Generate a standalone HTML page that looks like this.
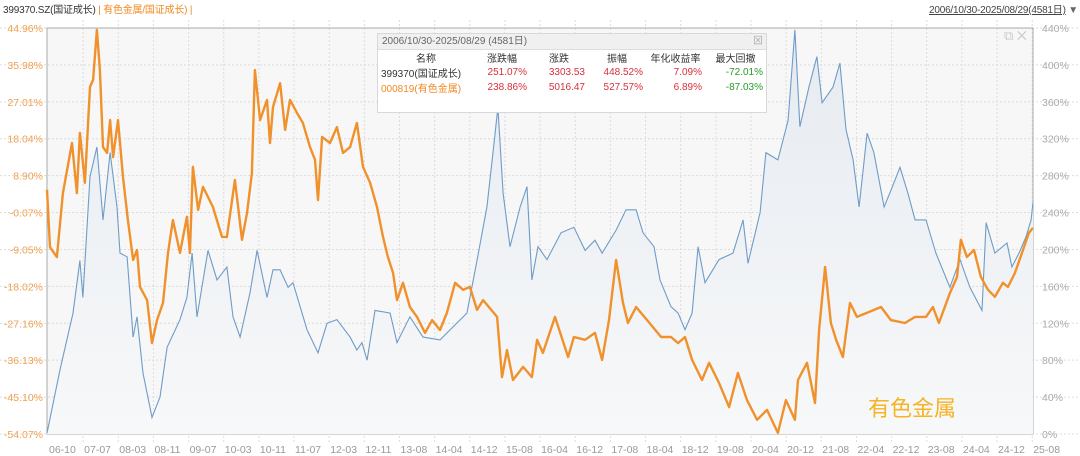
<!DOCTYPE html>
<html><head><meta charset="utf-8">
<style>
body{margin:0;background:#fff;width:1080px;height:456px;overflow:hidden;font-family:"Liberation Sans","Noto Sans CJK SC",sans-serif;}
#wrap{position:relative;width:1080px;height:456px;}
svg{position:absolute;left:0;top:0;}
.hdr{position:absolute;top:1px;font-size:10px;white-space:nowrap;letter-spacing:-0.2px;}
#legend{position:absolute;left:377px;top:33px;width:388px;height:78px;background:#fff;border:1px solid #d8d8d8;font-size:10px;color:#333;white-space:nowrap;}
#legend .t{height:15px;background:#f0f0f0;border-bottom:1px solid #ddd;color:#666;padding-left:4px;line-height:15px;}
#legend table{border-collapse:collapse;width:388px;table-layout:fixed;}
#legend td{padding:0 3px;height:15px;text-align:right;overflow:hidden;}
.red{color:#d8303a}.grn{color:#2a9a2a}
</style></head><body>
<div id="wrap">
<div class="hdr" style="left:3px;color:#333">399370.SZ(国证成长) <span style="color:#f08a24">| 有色金属/国证成长) |</span></div>
<div class="hdr" style="right:2px;color:#444"><span style="text-decoration:underline">2006/10/30-2025/08/29(4581日)</span><span style="color:#666"> ▼</span></div>
<svg id="chart" width="1080" height="456"></svg>
<div id="legend">
<div class="t">2006/10/30-2025/08/29 (4581日)<span style="float:right;margin-right:3px;color:#aaa">⊠</span></div>
<table>
<colgroup><col style="width:96px"><col style="width:56px"><col style="width:58px"><col style="width:58px"><col style="width:59px"><col style="width:61px"></colgroup>
<tr style="color:#333"><td style="text-align:center">名称</td><td style="text-align:center">涨跌幅</td><td style="text-align:center">涨跌</td><td style="text-align:center">振幅</td><td style="text-align:center">年化收益率</td><td style="text-align:center">最大回撤</td></tr>
<tr><td style="text-align:left">399370(国证成长)</td><td class="red">251.07%</td><td class="red">3303.53</td><td class="red">448.52%</td><td class="red">7.09%</td><td class="grn">-72.01%</td></tr>
<tr ><td style="text-align:left;color:#f08a24">000819(有色金属)</td><td class="red">238.86%</td><td class="red">5016.47</td><td class="red">527.57%</td><td class="red">6.89%</td><td class="grn">-87.03%</td></tr>
</table></div>
</div>
<script>
const xLabels=["06-10","07-07","08-03","08-11","09-07","10-03","10-11","11-07","12-03","12-11","13-08","14-04","14-12","15-08","16-04","16-12","17-08","18-04","18-12","19-08","20-04","20-12","21-08","22-04","22-12","23-08","24-04","24-12","25-08"];
const leftTicks=["44.96%","35.98%","27.01%","18.04%","8.90%","-0.07%","-9.05%","-18.02%","-27.16%","-36.13%","-45.10%","-54.07%"];
const rightTicks=["440%","400%","360%","320%","280%","240%","200%","160%","120%","80%","40%","0%"];
const blueDays=[0,60,121,153,167,200,232,260,293,325,339,372,400,418,446,488,525,558,618,650,674,697,748,790,836,864,897,943,976,1022,1050,1083,1120,1143,1208,1259,1301,1347,1408,1440,1463,1487,1524,1594,1626,1686,1747,1826,1886,1951,1998,2044,2072,2095,2119,2151,2198,2230,2253,2281,2323,2388,2448,2500,2546,2579,2644,2690,2737,2769,2820,2848,2899,2932,2964,2997,3025,3057,3122,3187,3234,3257,3313,3340,3396,3443,3475,3498,3540,3577,3601,3652,3684,3712,3745,3773,3810,3842,3889,3921,3963,4000,4033,4084,4130,4195,4242,4288,4344,4363,4404,4460,4483,4516,4549,4572,4581];
const blueValues=[1,69,131,188,148,279,311,232,305,246,196,192,105,127,66,18,40,94,124,148,196,127,199,167,181,127,105,153,199,148,178,178,159,164,113,88,120,124,105,91,99,80,134,131,99,127,105,102,116,131,188,246,305,354,261,203,246,268,167,203,189,218,224,199,210,196,221,243,243,218,203,167,138,131,113,131,203,164,189,196,232,185,240,305,297,340,438,333,376,409,359,376,402,330,297,246,326,305,246,264,289,261,232,232,196,159,189,159,134,229,196,207,181,196,214,232,251];
const orangeDays=[0,14,46,74,116,139,153,176,200,214,232,246,260,279,293,307,330,353,376,400,418,432,465,488,511,539,562,585,618,650,664,678,702,725,771,813,836,873,906,929,952,966,990,1022,1036,1050,1083,1106,1129,1162,1189,1222,1245,1259,1278,1315,1347,1375,1408,1440,1468,1501,1533,1561,1584,1608,1626,1654,1686,1719,1756,1789,1826,1858,1896,1933,1965,1998,2026,2091,2114,2137,2165,2212,2253,2277,2304,2360,2421,2448,2500,2546,2579,2611,2644,2676,2699,2737,2788,2853,2899,2932,2964,2997,3043,3076,3122,3169,3210,3252,3299,3345,3396,3433,3475,3489,3531,3568,3587,3615,3642,3666,3698,3731,3763,3810,3875,3921,3986,4033,4084,4116,4144,4195,4228,4246,4274,4307,4339,4372,4404,4441,4465,4497,4530,4562,4581];
const orangeValues=[5.5,-8.5,-10.9,4.7,16.9,4.7,19.4,7.2,30.6,32.3,44.5,34.7,15.9,14.5,22.5,13.5,22.5,8.6,-1.9,-11.6,-9.2,-18.2,-21.4,-31.9,-26.3,-22.1,-9.9,-1.9,-9.9,-1.1,-9.9,11.1,0.6,6.2,1.3,-6.0,-6.0,7.9,-6.7,-0.2,9.6,34.7,22.5,27.4,16.9,25.7,31.5,20.1,27.4,24.2,21.8,15.9,12.8,3.0,18.4,16.9,20.8,14.5,15.9,21.8,11.1,7.2,1.3,-6.0,-10.9,-14.8,-21.4,-17.2,-23.1,-25.5,-29.4,-26.3,-28.7,-24.5,-17.2,-18.9,-18.2,-23.8,-21.4,-25.5,-40.2,-33.6,-40.9,-37.7,-40.2,-31.1,-34.3,-25.5,-35.3,-30.4,-31.1,-29.4,-36.0,-26.3,-11.6,-22.1,-27.0,-23.1,-26.3,-30.4,-30.4,-31.9,-30.4,-36.0,-40.9,-36.7,-41.6,-47.5,-39.2,-45.8,-50.6,-48.2,-53.8,-45.8,-50.6,-40.9,-36.7,-46.5,-28.7,-13.3,-27.0,-31.1,-35.3,-22.1,-25.5,-24.5,-23.1,-26.3,-27.0,-25.5,-25.5,-23.1,-27.0,-19.7,-15.8,-6.7,-10.9,-9.2,-15.8,-18.9,-20.6,-17.2,-18.2,-14.8,-9.9,-5.0,-3.8];

const L=47,R=1033,T=28,B=434,NDAYS=4581;
const xS=d=>L+d/NDAYS*(R-L);
const yBlue=v=>B-v/440*(B-T);
const yOr=v=>T+(44.96-v)/(44.96+54.07)*(B-T);
const NS="http://www.w3.org/2000/svg";
const svg=document.getElementById('chart');
function mk(tag,attrs,parent){const e=document.createElementNS(NS,tag);for(const k in attrs)e.setAttribute(k,attrs[k]);(parent||svg).appendChild(e);return e;}
const defs=mk('defs',{});
const g=mk('linearGradient',{id:'bg',x1:0,y1:0,x2:0,y2:1},defs);
mk('stop',{offset:'0','stop-color':'#e6ebf1'},g);mk('stop',{offset:'1','stop-color':'#f7f8f9'},g);
const plotBg=mk('rect',{x:L,y:T,width:R-L,height:B-T,fill:'#f7f7f7',stroke:'#a8a8a8','stroke-width':1});


const stepX=35.15;
xLabels.forEach((lab,i)=>{
  const x=48+i*stepX;
  if(i>0){const ln=mk('line',{x1:x,y1:20,x2:x,y2:442,stroke:'#dcdcdc','stroke-dasharray':'2,2'});
  
  }
  const t=mk('text',{x:x+1,y:453,'font-size':10.5,fill:'#999','font-family':'Liberation Sans, sans-serif'});
  t.textContent=lab;
  
  
});
leftTicks.forEach((lab,i)=>{
  const y=T+i*(B-T)/11;
  const ln=mk('line',{x1:0,y1:y,x2:1080,y2:y,stroke:'#dcdcdc','stroke-dasharray':'2,2'});
  
  
  const t=mk('text',{x:43,y:y+4,'font-size':10.5,fill:'#f0a050','text-anchor':'end'});
  t.textContent=lab;
  
  
  const t2=mk('text',{x:1042,y:y+4,'font-size':10.5,fill:'#aaa'});
  t2.textContent=rightTicks[i];
  
  
});
mk('rect',{x:L,y:T,width:R-L,height:B-T,fill:'none',stroke:'#a8a8a8','stroke-width':1});
let bp=blueDays.map((d,i)=>xS(d).toFixed(1)+','+yBlue(blueValues[i]).toFixed(1));
const area=mk('polygon',{points:bp.join(' ')+' '+xS(NDAYS)+','+B+' '+L+','+B,fill:'url(#bg)'});


const bl=mk('polyline',{points:bp.join(' '),fill:'none',stroke:'#6e9cc7','stroke-width':1.1});


const op=orangeDays.map((d,i)=>xS(d).toFixed(1)+','+yOr(orangeValues[i]).toFixed(1));
const ol=mk('polyline',{points:op.join(' '),fill:'none',stroke:'#f0912c','stroke-width':2.4,'stroke-linejoin':'round'});


const wm=mk('text',{x:868,y:416,'font-size':22,fill:'#f6b324','font-family':'Noto Sans CJK SC, sans-serif'});
wm.textContent='有色金属';


const ic=mk('text',{x:1004,y:40,'font-size':13,fill:'#c8c8c8'});
ic.textContent='⧉ ✕';


</script>
</body></html>
